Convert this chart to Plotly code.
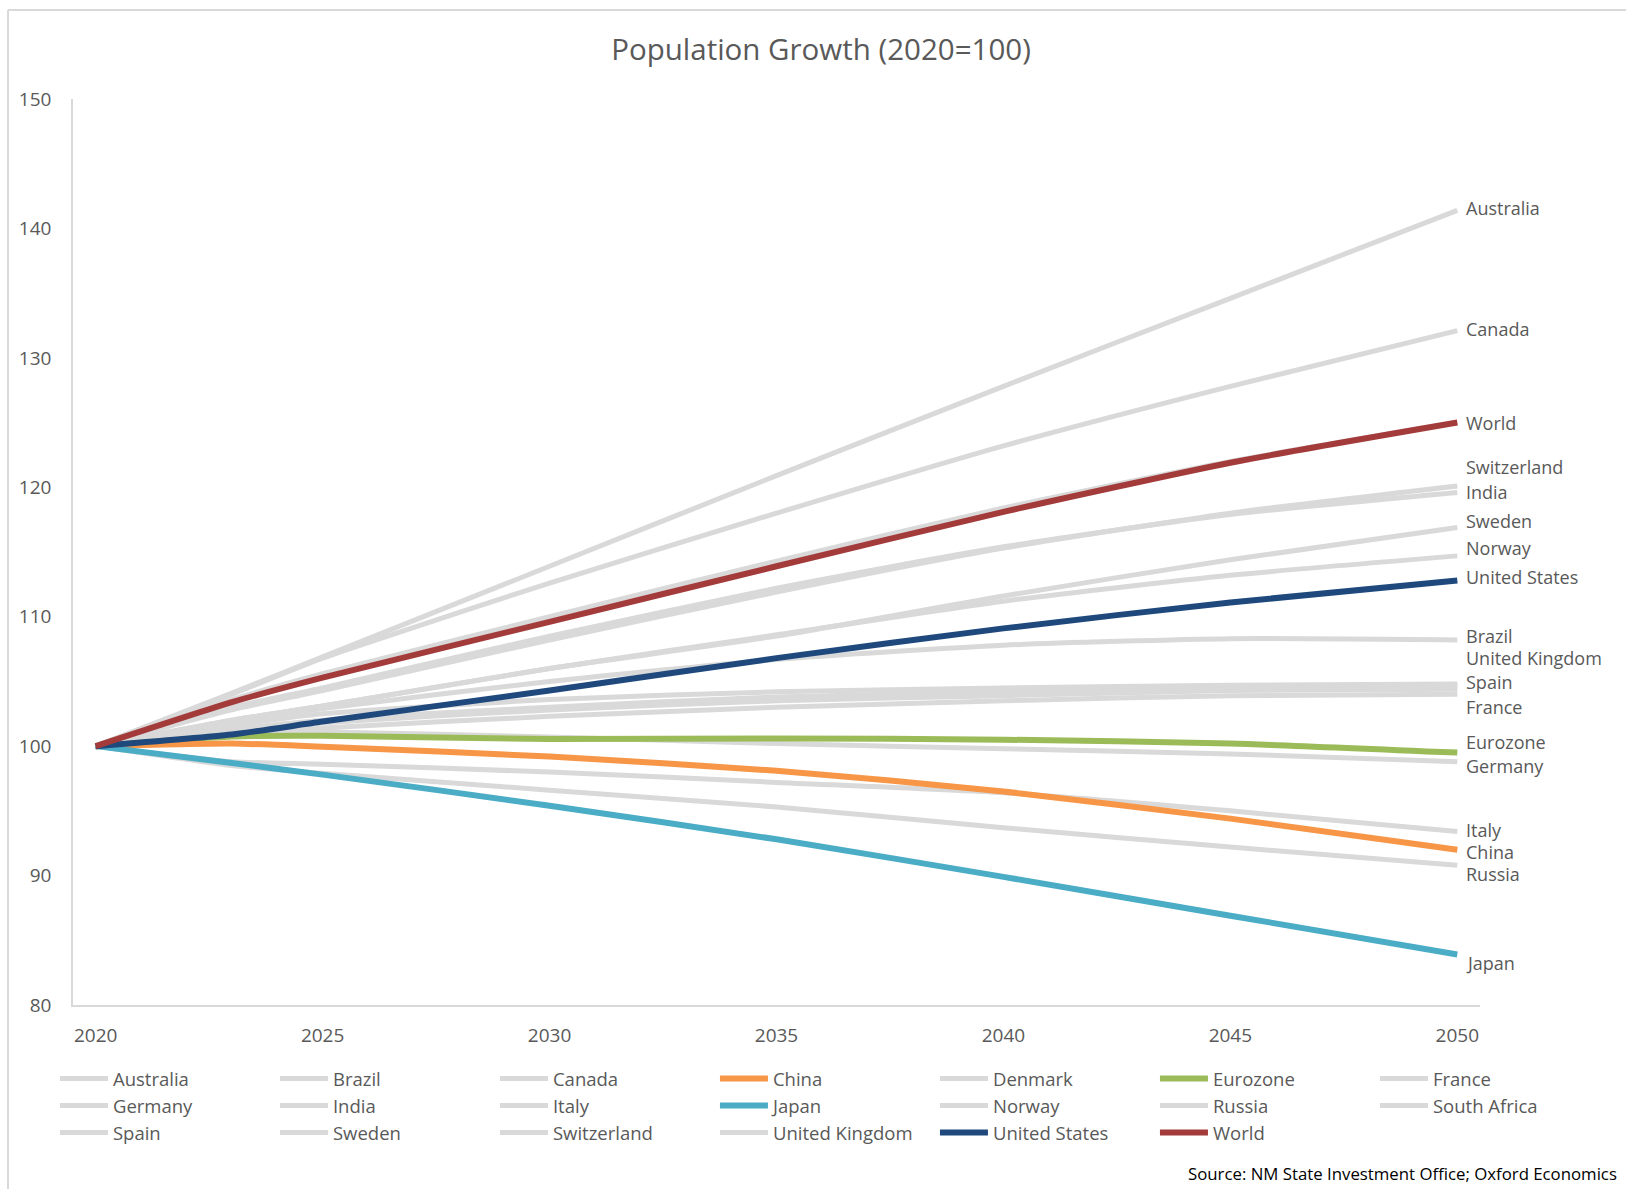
import plotly.graph_objects as go

YEARS = [2020, 2023, 2025, 2030, 2035, 2040, 2045, 2050]

australia = [100, 104.1, 106.9, 113.9, 120.9, 127.8, 134.6, 141.4]
brazil = [100, 101.8, 102.9, 105.0, 106.7, 107.8, 108.3, 108.2]
canada = [100, 104.0, 106.8, 112.6, 118.0, 123.2, 127.8, 132.1]
china = [100, 100.2, 99.95, 99.2, 98.1, 96.5, 94.4, 92.0]
denmark = [100, 101.3, 102.0, 103.0, 103.8, 104.2, 104.5, 104.6]
eurozone = [100, 100.75, 100.8, 100.55, 100.6, 100.5, 100.2, 99.5]
france = [100, 100.9, 101.4, 102.3, 103.0, 103.5, 103.9, 104.0]
germany = [100, 101.0, 101.1, 100.7, 100.2, 99.8, 99.4, 98.8]
india = [100, 103.0, 104.5, 108.5, 112.2, 115.4, 117.9, 119.6]
italy = [100, 98.8, 98.6, 98.0, 97.2, 96.4, 95.0, 93.4]
japan = [100, 98.7, 97.8, 95.4, 92.8, 89.9, 86.9, 83.9]
norway = [100, 102.0, 103.1, 106.0, 108.6, 111.2, 113.2, 114.7]
russia = [100, 98.5, 97.9, 96.6, 95.3, 93.7, 92.2, 90.8]
south_africa = [100, 103.6, 105.6, 110.0, 114.3, 118.4, 122.0, 125.0]
spain = [100, 101.2, 101.8, 102.8, 103.5, 103.9, 104.3, 104.4]
sweden = [100, 102.0, 103.1, 106.0, 108.5, 111.6, 114.4, 116.9]
switzerland = [100, 102.8, 104.3, 108.2, 111.9, 115.3, 118.0, 120.1]
united_kingdom = [100, 101.6, 102.5, 103.6, 104.2, 104.5, 104.7, 104.8]
united_states = [100, 100.9, 101.9, 104.3, 106.8, 109.1, 111.1, 112.8]
world = [100, 103.4, 105.3, 109.6, 113.9, 118.1, 121.9, 125.0]

SERIES = [
    ("Australia", australia), ("Brazil", brazil), ("Canada", canada),
    ("China", china), ("Denmark", denmark), ("Eurozone", eurozone),
    ("France", france), ("Germany", germany), ("India", india),
    ("Italy", italy), ("Japan", japan), ("Norway", norway),
    ("Russia", russia), ("South Africa", south_africa), ("Spain", spain),
    ("Sweden", sweden), ("Switzerland", switzerland),
    ("United Kingdom", united_kingdom), ("United States", united_states),
    ("World", world),
]

GRAY = "#D9D9D9"
HIGHLIGHT = {
    "Eurozone": "#9BBB59",
    "China": "#F79646",
    "Japan": "#4BACC6",
    "United States": "#1F497D",
    "World": "#A33B3B",
}
DRAW_LAST = ["Eurozone", "China", "Japan", "United States", "World"]

# label vertical nudges (px) to keep end labels apart, as in the original
LABEL_SHIFT = {
    "Australia": 2, "Canada": 2, "World": 0, "Switzerland": 19, "India": 0,
    "Sweden": 6, "Norway": 8, "United States": 3, "Brazil": 4,
    "United Kingdom": 26, "Spain": 7, "France": -13, "Eurozone": 11,
    "Germany": -4, "Italy": 2, "China": -2, "Russia": -9, "Japan": -8,
}

FONT = "Open Sans"
TXT = "#595959"

fig = go.Figure()
rank = {name: i for i, (name, _) in enumerate(SERIES)}
ordered = [s for s in SERIES if s[0] not in DRAW_LAST] + \
          [s for n in DRAW_LAST for s in SERIES if s[0] == n]
for name, vals in ordered:
    color = HIGHLIGHT.get(name, GRAY)
    fig.add_trace(go.Scatter(
        x=YEARS, y=vals, name=name, mode="lines",
        line=dict(color=color, width=6 if name in HIGHLIGHT else 5,
                  shape="spline", smoothing=0.6),
        legendrank=rank[name] + 1,
        hoverinfo="name+y",
    ))

for name, vals in SERIES:
    if name in LABEL_SHIFT:
        fig.add_annotation(
            x=YEARS[-1], y=vals[-1], text=name, showarrow=False,
            xanchor="left", yanchor="middle", xshift=7,
            yshift=LABEL_SHIFT[name],
            font=dict(family=FONT, size=18, color=TXT),
        )

fig.add_annotation(
    xref="paper", yref="paper", x=(1619 - 73) / 1407, y=-(1173 - 1005) / 906,
    text="Source: NM State Investment Office; Oxford Economics",
    showarrow=False, xanchor="right", yanchor="middle",
    font=dict(family=FONT, size=16.8, color="#000000"),
)

# light chart border (left and top edges)
fig.add_shape(type="line", xref="paper", yref="paper",
              x0=(8 - 73) / 1407, x1=(1640 - 73) / 1407,
              y0=(1005 - 10) / 906, y1=(1005 - 10) / 906,
              line=dict(color=GRAY, width=2))
fig.add_shape(type="line", xref="paper", yref="paper",
              x0=(8 - 73) / 1407, x1=(8 - 73) / 1407,
              y0=(1005 - 10) / 906, y1=-(1200 - 1005) / 906,
              line=dict(color=GRAY, width=2))

fig.update_layout(
    width=1626, height=1189,
    margin=dict(l=73, r=146, t=99, b=184, autoexpand=False),
    paper_bgcolor="white", plot_bgcolor="white",
    title=dict(text="Population Growth (2020=100)", x=821 / 1626, xanchor="center",
               y=1 - 50 / 1189, yanchor="middle",
               font=dict(family=FONT, size=29.5, color=TXT)),
    font=dict(family=FONT, color=TXT),
    showlegend=True,
    legend=dict(
        orientation="h", x=1.0817, xanchor="right", y=-0.0607, yanchor="top",
        entrywidth=157, entrywidthmode="pixels", itemwidth=48,
        font=dict(family=FONT, size=18.5, color=TXT),
        bgcolor="rgba(0,0,0,0)", traceorder="normal",
    ),
    xaxis=dict(
        range=[2019.5, 2050.5], tickvals=[2020, 2025, 2030, 2035, 2040, 2045, 2050],
        showgrid=False, zeroline=False, showline=True, linecolor=GRAY, linewidth=1.5,
        ticks="", ticklabelstandoff=12,
        tickfont=dict(family=FONT, size=19, color=TXT), automargin=False,
    ),
    yaxis=dict(
        range=[80, 150], dtick=10, tick0=80,
        showgrid=False, zeroline=False, showline=True, linecolor=GRAY, linewidth=1.5,
        ticks="", ticklabelstandoff=16,
        tickfont=dict(family=FONT, size=19, color=TXT), automargin=False,
    ),
)

fig.write_html("out.html")
